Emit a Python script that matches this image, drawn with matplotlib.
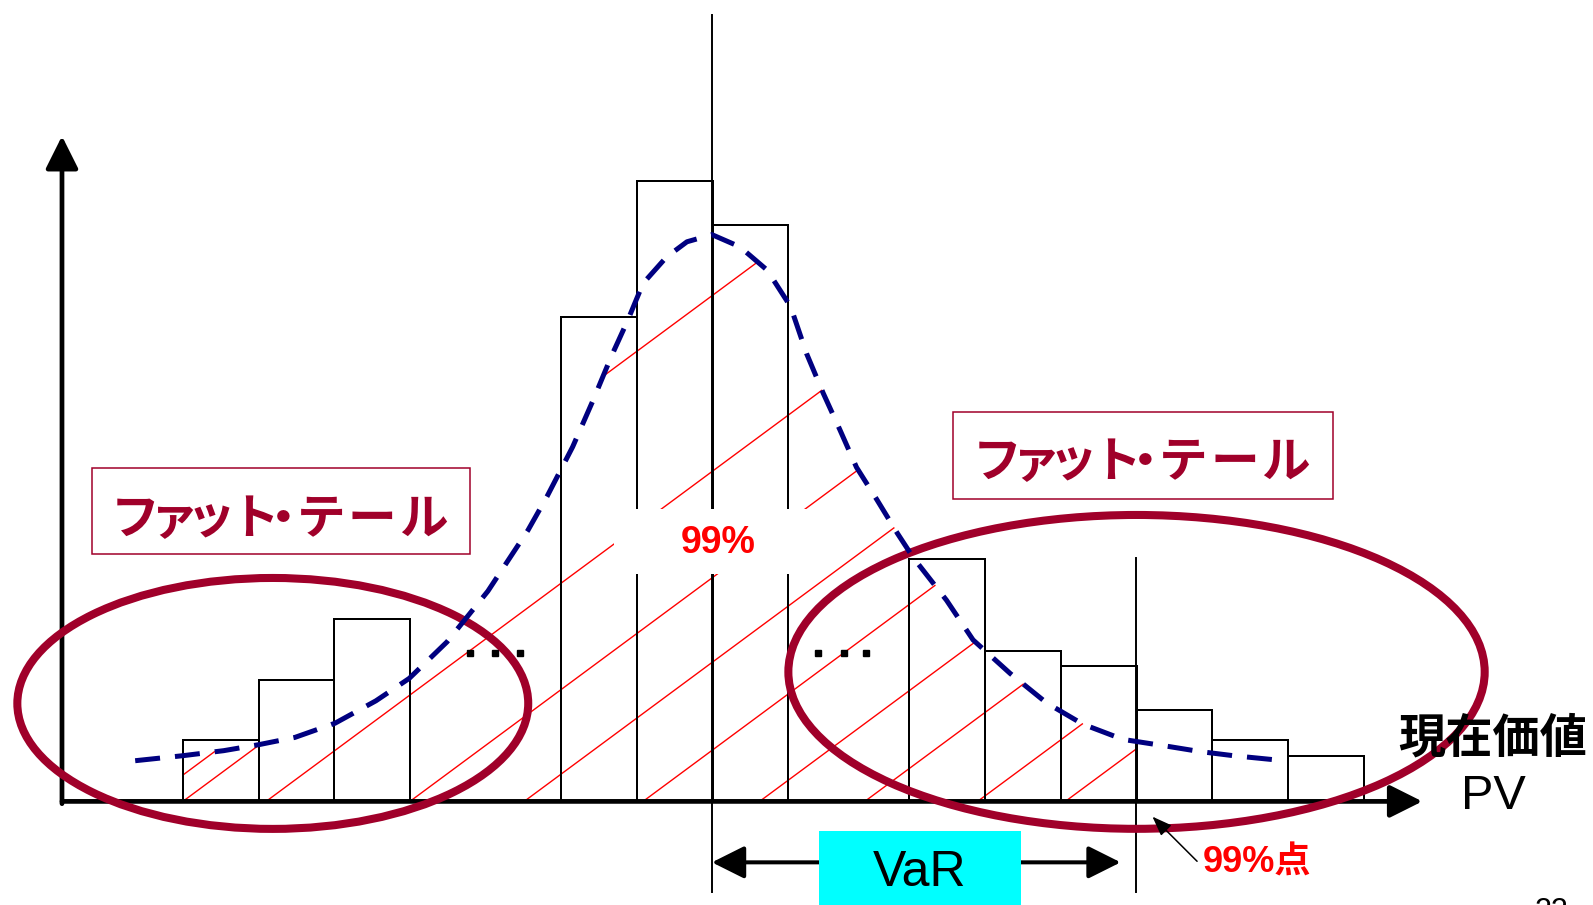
import numpy as np
import matplotlib
matplotlib.use("Agg")
import matplotlib.pyplot as plt
from matplotlib.patches import Rectangle, Ellipse

# -----------------------------
# Histogram bars (x in bin widths, height in frequency units)
# -----------------------------
bar_left = [0, 1, 2, 5, 6, 7, 9.6, 10.6, 11.6, 12.6, 13.6, 14.6]
bar_height = [4, 8, 12, 31.8, 40.7, 37.8, 15.9, 9.9, 8.9, 6, 4, 3]

# -----------------------------
# Normal-like density curve (dashed)
# -----------------------------
curve_x = [-0.63, 0.0, 0.54, 1.01, 1.48, 2.01, 2.55, 2.99, 3.49, 4.03, 4.56,
           4.81, 5.15, 5.42, 5.66, 5.88, 6.08, 6.39, 6.66, 6.99, 7.36, 7.72,
           8.03, 8.24, 8.46, 8.68, 8.90, 9.17, 9.44, 9.65, 10.09, 10.44,
           10.93, 11.41, 11.89, 12.42, 13.03, 13.44, 13.88, 14.55]
curve_y = [2.67, 3.0, 3.33, 3.73, 4.2, 5.13, 6.6, 8.07, 10.47, 13.8, 17.8,
           20.0, 23.27, 26.33, 29.2, 31.6, 34.0, 35.73, 36.73, 37.2, 36.4,
           34.87, 32.47, 29.4, 26.8, 24.4, 21.93, 19.8, 17.6, 16.0, 13.2,
           10.6, 8.4, 6.47, 5.07, 4.07, 3.6, 3.27, 3.0, 2.67]

# hatch lines: where each red line meets the x axis
hatch_start = [-2.04, -0.47, 0.0, 1.1, 3.0, 4.51, 6.08, 7.62, 9.01, 10.5, 11.66]
HATCH_SLOPE = 3.675

MEAN_X = 6.99
VAR99_X = 12.59

FAT_TAIL = "ファット・テール"
# per-character offsets (proportional spacing of the original label)
FAT_TAIL_DX = [-1.935, -1.42, -0.925, -0.35, 0.02, 0.528, 1.202, 1.882]
AXIS_LABEL = "現在価値"

DARK_RED = "#A0002A"
NAVY = "#000080"
JP = ["Noto Sans CJK JP", "DejaVu Sans"]
LAT = ["Liberation Sans", "Noto Sans CJK JP", "DejaVu Sans"]

fig = plt.figure(figsize=(15.93, 9.05), dpi=100)
ax = fig.add_axes([0, 0, 1, 1])
ax.set_xlim(-2.416, 18.631)
ax.set_ylim(-6.8, 52.6)
ax.axis("off")

# bars
ax.bar(bar_left, bar_height, width=1.0, align="edge", facecolor="white",
       edgecolor="black", linewidth=1.4, zorder=1)
ax.bar(bar_left, bar_height, width=1.0, align="edge", facecolor="none",
       edgecolor="black", linewidth=1.4, zorder=3)

# -----------------------------
# Hatching under the curve up to the 99% point
# -----------------------------
cx = np.array(curve_x)
cy = np.array(curve_y)
for x0 in hatch_start:
    xs = np.linspace(x0, x0 + 15, 4000)
    ys = HATCH_SLOPE * (xs - x0)
    ok = (xs >= 0) & (xs <= VAR99_X) & (ys <= np.interp(xs, cx, cy))
    idx = np.flatnonzero(ok)
    if idx.size == 0:
        continue
    gaps = np.flatnonzero(np.diff(idx) > 1)
    end = idx[gaps[0]] if gaps.size else idx[-1]
    ax.plot([xs[idx[0]], xs[end]], [ys[idx[0]], ys[end]], color="red",
            linewidth=1.0, zorder=2)

# vertical reference lines
ax.plot([MEAN_X, MEAN_X], [-5.93, 51.6], color="black", linewidth=1.4, zorder=3)
ax.plot([VAR99_X, VAR99_X], [-5.93, 16.0], color="black", linewidth=1.4, zorder=3)

# white label box for 99%
ax.add_patch(Rectangle((5.7, 14.93), 2.78, 4.27, facecolor="white",
                       edgecolor="none", zorder=4))
ax.text(7.07, 16.93, "99%", color="red", fontsize=27, fontweight="bold",
        family=LAT, ha="center", va="center", zorder=5)

# axes with arrows
ax.annotate("", xy=(16.376, 0), xytext=(-1.597, 0),
            arrowprops=dict(arrowstyle="-|>,head_length=2.0,head_width=1.0",
                            lw=3.4, color="black", mutation_scale=10,
                            shrinkA=0, shrinkB=0), zorder=5)
ax.annotate("", xy=(-1.597, 43.67), xytext=(-1.597, -0.15),
            arrowprops=dict(arrowstyle="-|>,head_length=2.0,head_width=1.0",
                            lw=3.4, color="black", mutation_scale=10,
                            shrinkA=0, shrinkB=0), zorder=5)

# fat tail ellipses
ax.add_patch(Ellipse((1.188, 6.43), 6.75, 16.47, facecolor="none",
                     edgecolor=DARK_RED, linewidth=5.8, zorder=6))
ax.add_patch(Ellipse((12.60, 8.5), 9.2, 20.6, facecolor="none",
                     edgecolor=DARK_RED, linewidth=5.8, zorder=6))

# dashed density curve
ax.plot(curve_x, curve_y, color=NAVY, linewidth=3.6, linestyle=(0, (5, 3)),
        dash_capstyle="butt", zorder=7)

# "..." markers between bar groups
ax.plot([3.80, 4.13, 4.46], [9.73] * 3, "s", color="black", markersize=5, zorder=7)
ax.plot([8.39, 8.73, 9.03], [9.73] * 3, "s", color="black", markersize=5, zorder=7)

# -----------------------------
# Fat tail labels
# -----------------------------
for (x, y, w, h, tx, ty) in [(-1.195, 16.27, 4.995, 5.6, 1.30, 17.56),
                             (10.17, 19.87, 5.02, 5.66, 12.69, 21.3)]:
    ax.add_patch(Rectangle((x, y), w, h, facecolor="white", edgecolor=DARK_RED,
                           linewidth=1.1, zorder=8))
    for ch, dx in zip(FAT_TAIL, FAT_TAIL_DX):
        ax.text(tx + dx, ty, ch, color=DARK_RED, fontsize=35, fontweight="bold",
                family=JP, ha="center", va="baseline", zorder=9)

# VaR double arrow and label
ax.annotate("", xy=(12.39, -4.0), xytext=(MEAN_X, -4.0),
            arrowprops=dict(arrowstyle="<|-|>,head_length=2.0,head_width=1.0",
                            lw=2.9, color="black", mutation_scale=10,
                            shrinkA=0, shrinkB=0), zorder=5)
ax.add_patch(Rectangle((8.40, -7.0), 2.67, 5.07, facecolor="#00FFFF",
                       edgecolor="none", zorder=6))
ax.text(9.73, -4.67, "VaR", color="black", fontsize=36, family=LAT,
        ha="center", va="center", zorder=7)

# 99% point pointer
ax.annotate("", xy=(12.81, -1.0), xytext=(13.40, -3.93),
            arrowprops=dict(arrowstyle="-|>,head_length=1.2,head_width=0.45",
                            lw=1.1, color="black", mutation_scale=10,
                            shrinkA=0, shrinkB=0), zorder=7)
ax.text(13.47, -4.07, "99%点", color="red", fontsize=26, fontweight="bold",
        family=LAT, ha="left", va="center", zorder=7)

# x axis label
ax.text(17.31, 4.13, AXIS_LABEL, color="black", fontsize=34, fontweight="bold",
        family=JP, ha="center", va="center", zorder=7)
ax.text(17.32, 0.33, "PV", color="black", fontsize=35, family=LAT,
        ha="center", va="center", zorder=7)

# page number (cut at the bottom edge as in the original slide)
ax.text(18.08, -6.27, "22", color="black", fontsize=22, family=LAT,
        ha="center", va="top", zorder=7)

fig.savefig("out.png", dpi=100)
